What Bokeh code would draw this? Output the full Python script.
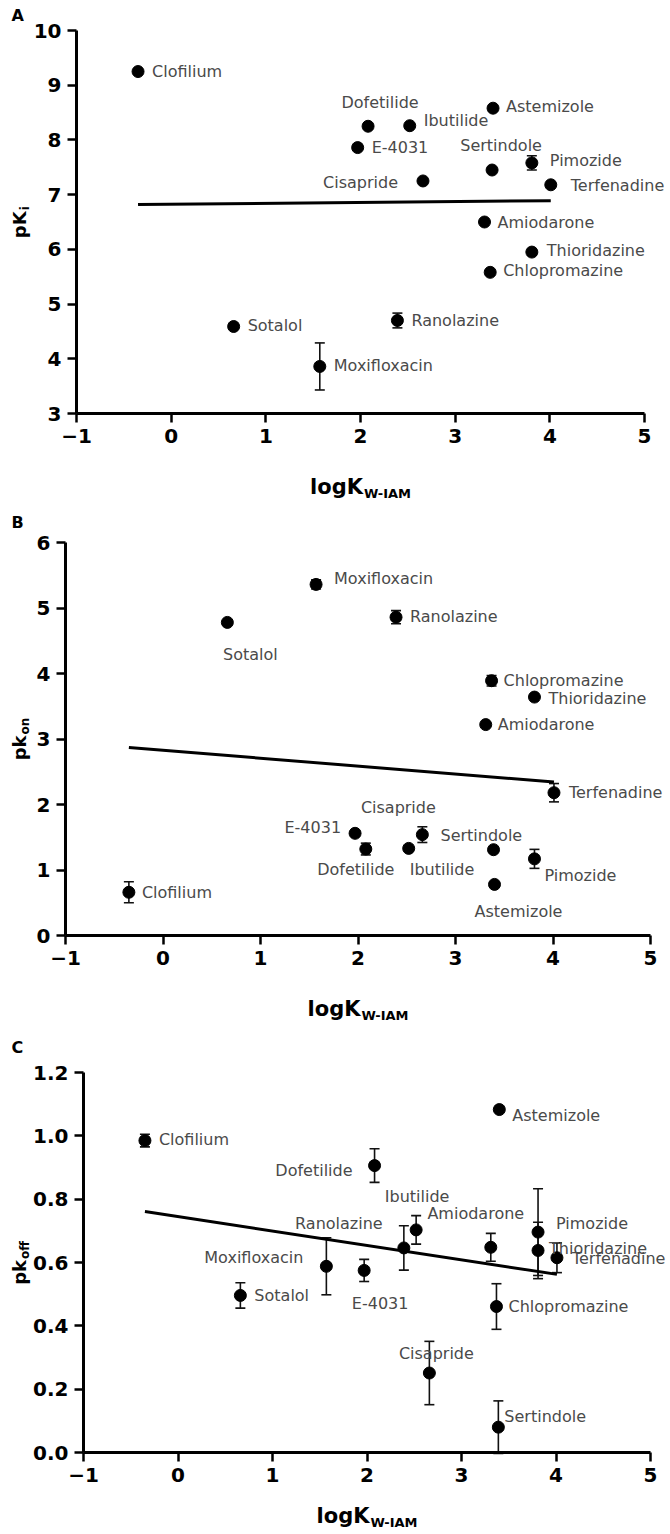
import math
from bokeh.plotting import figure
from bokeh.models import (ColumnDataSource, Range1d, FixedTicker, LabelSet, Label,
                          Whisker, TeeHead, LinearAxis, PrintfTickFormatter)
from bokeh.layouts import column
from bokeh.core.properties import value
from bokeh.embed import file_html
from bokeh.resources import INLINE

# ---------------- data ----------------
drugs = ["Clofilium", "Sotalol", "Moxifloxacin", "E-4031", "Dofetilide", "Ranolazine",
         "Ibutilide", "Cisapride", "Amiodarone", "Chlopromazine", "Sertindole",
         "Astemizole", "Thioridazine", "Pimozide", "Terfenadine"]
logk_w_iam = [-0.35, 0.66, 1.57, 1.97, 2.08, 2.39, 2.52, 2.66, 3.31, 3.37, 3.39, 3.40, 3.81, 3.81, 4.01]

pki = [9.25, 4.59, 3.86, 7.86, 8.25, 4.70, 8.26, 7.25, 6.50, 5.58, 7.45, 8.58, 5.95, 7.58, 7.18]
pki_sem = [0, 0, 0.43, 0, 0, 0.135, 0, 0, 0, 0, 0, 0, 0, 0.13, 0]

pkon = [0.66, 4.78, 5.36, 1.56, 1.32, 4.86, 1.33, 1.54, 3.22, 3.89, 1.31, 0.78, 3.64, 1.17, 2.18]
pkon_sem = [0.16, 0, 0.07, 0, 0.09, 0.10, 0, 0.12, 0, 0.08, 0, 0, 0, 0.145, 0.14]

pkoff = [0.985, 0.496, 0.588, 0.575, 0.906, 0.646, 0.703, 0.251, 0.648, 0.461, 0.08,
         1.083, 0.638, 0.696, 0.615]
pkoff_sem = [0.02, 0.04, 0.09, 0.035, 0.053, 0.07, 0.045, 0.10, 0.044, 0.072, 0.083,
             0, 0.089, 0.137, 0.047]

# regression lines (slope, intercept)
fit_pki = (0.016, 6.826)
fit_pkon = (-0.121, 2.828)
fit_pkoff = (-0.0455, 0.745)

x_ticks = [-1, 0, 1, 2, 3, 4, 5]
pki_ticks = [3, 4, 5, 6, 7, 8, 9, 10]
pkon_ticks = [0, 1, 2, 3, 4, 5, 6]
pkoff_ticks = [0.0, 0.2, 0.4, 0.6, 0.8, 1.0, 1.2]

# ---------------- label placement (pixel offsets, down positive) ----------------
place_A = [(14, 0, "left"), (14, -1, "left"), (14, -1, "left"), (14, 0, "left"),
           (12, -24, "center"), (14, 0, "left"), (14, -5, "left"), (-25, 2, "right"),
           (13, 0, "left"), (13, -2, "left"), (9, -25, "center"), (13, -2, "left"),
           (15, -2, "left"), (18, -2, "left"), (20, 1, "left")]
place_B = [(13, 0, "left"), (23, 32, "center"), (18, -6, "left"), (-14, -6, "right"),
           (-10, 20, "center"), (14, -1, "left"), (1, 21, "left"), (-24, -27, "center"),
           (12, 0, "left"), (12, 0, "left"), (-53, -14, "left"), (24, 27, "center"),
           (14, 1, "left"), (10, 17, "left"), (15, 0, "left")]
place_C = [(14, -1, "left"), (14, 0, "left"), (-23, -9, "right"), (16, 33, "center"),
           (-22, 5, "right"), (-65, -24, "center"), (1, -33, "center"), (7, -20, "center"),
           (-15, -34, "center"), (12, 0, "left"), (6, -11, "left"), (13, 6, "left"),
           (11, -2, "left"), (18, -9, "left"), (15, 1, "left")]

FONT = "DejaVu Sans"
PAGE_W = 670
LABEL_COLOR = "#4a4a4a"

# page geometry (pixels from the top-left corner of the page)
panels = [
    dict(letter="A", page_top=0, height=508, frame=(76, 30, 644, 413), yr=(3, 10),
         yticks=pki_ticks, y=pki, sem=pki_sem, fit=fit_pki, place=place_A, fmt=None,
         ymain="pK", ysub="i", main_w=26.8, sub_w=4.5, xlab_base=486.5),
    dict(letter="B", page_top=508, height=522, frame=(65, 542, 650, 935), yr=(0, 6),
         yticks=pkon_ticks, y=pkon, sem=pkon_sem, fit=fit_pkon, place=place_B, fmt=None,
         ymain="pk", ysub="on", main_w=24.9, sub_w=16.8, xlab_base=1008.5),
    dict(letter="C", page_top=1030, height=504, frame=(83, 1072, 650, 1452), yr=(0, 1.2),
         yticks=pkoff_ticks, y=pkoff, sem=pkoff_sem, fit=fit_pkoff, place=place_C,
         fmt="%.1f", ymain="pk", ysub="off", main_w=24.9, sub_w=18.7, xlab_base=1515),
]


def make_panel(cfg):
    fl, ft, fr, fb = cfg["frame"]
    ptop, H = cfg["page_top"], cfg["height"]
    y0, y1 = cfg["yr"]
    xs_per_px = 6.0 / (fr - fl)
    ys_per_px = (y1 - y0) / (fb - ft)
    # the plotting frame covers the whole canvas; axes sit at fixed data locations
    x_start = -1 + (0 - fl) * xs_per_px
    x_end = -1 + (PAGE_W - fl) * xs_per_px
    y_end = y1 + (ft - ptop) * ys_per_px
    y_start = y1 - (ptop + H - ft) * ys_per_px

    p = figure(width=PAGE_W, height=H, output_backend="svg", toolbar_location=None,
               x_range=Range1d(x_start, x_end), y_range=Range1d(y_start, y_end),
               x_axis_location=None, y_axis_location=None, min_border=0)
    p.outline_line_color = None
    p.background_fill_color = "white"
    p.border_fill_color = "white"
    p.grid.visible = False

    def to_data(px, py):
        return (-1 + (px - fl) * xs_per_px, y1 - (py - ft) * ys_per_px)

    xa = LinearAxis(fixed_location=y0, bounds=(-1, 5), ticker=FixedTicker(ticks=x_ticks),
                    major_label_overrides={-1: "\u22121"})
    ya = LinearAxis(fixed_location=-1, bounds=(y0, y1), ticker=FixedTicker(ticks=cfg["yticks"]))
    if cfg["fmt"]:
        ya.formatter = PrintfTickFormatter(format=cfg["fmt"])
    for ax in (xa, ya):
        ax.axis_line_width = 3
        ax.axis_line_color = "black"
        ax.major_tick_line_width = 2.5
        ax.major_tick_line_color = "black"
        ax.major_tick_out = 9
        ax.major_tick_in = 0
        ax.minor_tick_line_color = None
        ax.major_label_text_font = FONT
        ax.major_label_text_font_style = "bold"
        ax.major_label_text_font_size = "20px"
        ax.major_label_text_color = "black"
        ax.major_label_standoff = 6
    p.add_layout(xa, "below")
    p.add_layout(ya, "left")

    # regression line
    slope, icpt = cfg["fit"]
    xs = [min(logk_w_iam), max(logk_w_iam)]
    p.line(xs, [icpt + slope * v for v in xs], line_color="black", line_width=3)

    # error bars
    ex = [x for x, s in zip(logk_w_iam, cfg["sem"]) if s > 0]
    ey = [y for y, s in zip(cfg["y"], cfg["sem"]) if s > 0]
    es = [s for s in cfg["sem"] if s > 0]
    esrc = ColumnDataSource(dict(base=ex, upper=[a + b for a, b in zip(ey, es)],
                                 lower=[a - b for a, b in zip(ey, es)]))
    p.add_layout(Whisker(base="base", upper="upper", lower="lower", source=esrc,
                         dimension="height", line_color="#111111", line_width=1.6,
                         upper_head=TeeHead(size=10, line_width=1.6, line_color="#111111"),
                         lower_head=TeeHead(size=10, line_width=1.6, line_color="#111111"),
                         level="underlay"))

    # points
    p.scatter(logk_w_iam, cfg["y"], size=12, marker="circle",
              fill_color="black", line_color="black")

    # drug labels
    for align in ("left", "center", "right"):
        idx = [i for i, pl in enumerate(cfg["place"]) if pl[2] == align]
        if not idx:
            continue
        src = ColumnDataSource(dict(
            x=[logk_w_iam[i] for i in idx], y=[cfg["y"][i] for i in idx],
            text=[drugs[i] for i in idx],
            xo=[cfg["place"][i][0] for i in idx],
            yo=[-cfg["place"][i][1] for i in idx]))
        p.add_layout(LabelSet(x="x", y="y", text="text", x_offset="xo", y_offset="yo",
                              source=src, text_align=align, text_baseline="middle",
                              text_font=value(FONT), text_font_size="16px",
                              text_color=LABEL_COLOR))

    # x axis title
    xc = (fl + fr) / 2.0
    yb = cfg["xlab_base"]
    lx, ly = to_data(xc + 2.5, yb)
    p.add_layout(Label(x=lx, y=ly, text="logK", text_align="right",
                       text_baseline="alphabetic", text_font=FONT,
                       text_font_style="bold", text_font_size="21px", text_color="black"))
    sx, sy = to_data(xc + 3.5, yb + 6.5)
    p.add_layout(Label(x=sx, y=sy, text="W-IAM", text_align="left",
                       text_baseline="alphabetic", text_font=FONT,
                       text_font_style="bold", text_font_size="13px", text_color="black"))

    # y axis title (rotated)
    yc = (ft + fb) / 2.0
    total = cfg["main_w"] + cfg["sub_w"] + 1
    xb = 19
    mx, my = to_data(xb, yc + total / 2.0)
    p.add_layout(Label(x=mx, y=my, text=cfg["ymain"], angle=math.pi / 2,
                       text_align="left", text_baseline="alphabetic", text_font=FONT,
                       text_font_style="bold", text_font_size="18px", text_color="black"))
    bx, by = to_data(xb + 5, yc + total / 2.0 - cfg["main_w"] - 1)
    p.add_layout(Label(x=bx, y=by, text=cfg["ysub"], angle=math.pi / 2,
                       text_align="left", text_baseline="alphabetic", text_font=FONT,
                       text_font_style="bold", text_font_size="12px", text_color="black"))

    # panel letter
    ax_, ay_ = to_data(11, {"A": 15, "B": 522, "C": 1047}[cfg["letter"]])
    p.add_layout(Label(x=ax_, y=ay_, text=cfg["letter"], text_align="left",
                       text_baseline="middle", text_font=FONT, text_font_style="bold",
                       text_font_size="16px", text_color="black"))
    return p


figs = [make_panel(c) for c in panels]
layout = column(*figs, spacing=0)
open("out.html", "w").write(file_html(layout, INLINE))
